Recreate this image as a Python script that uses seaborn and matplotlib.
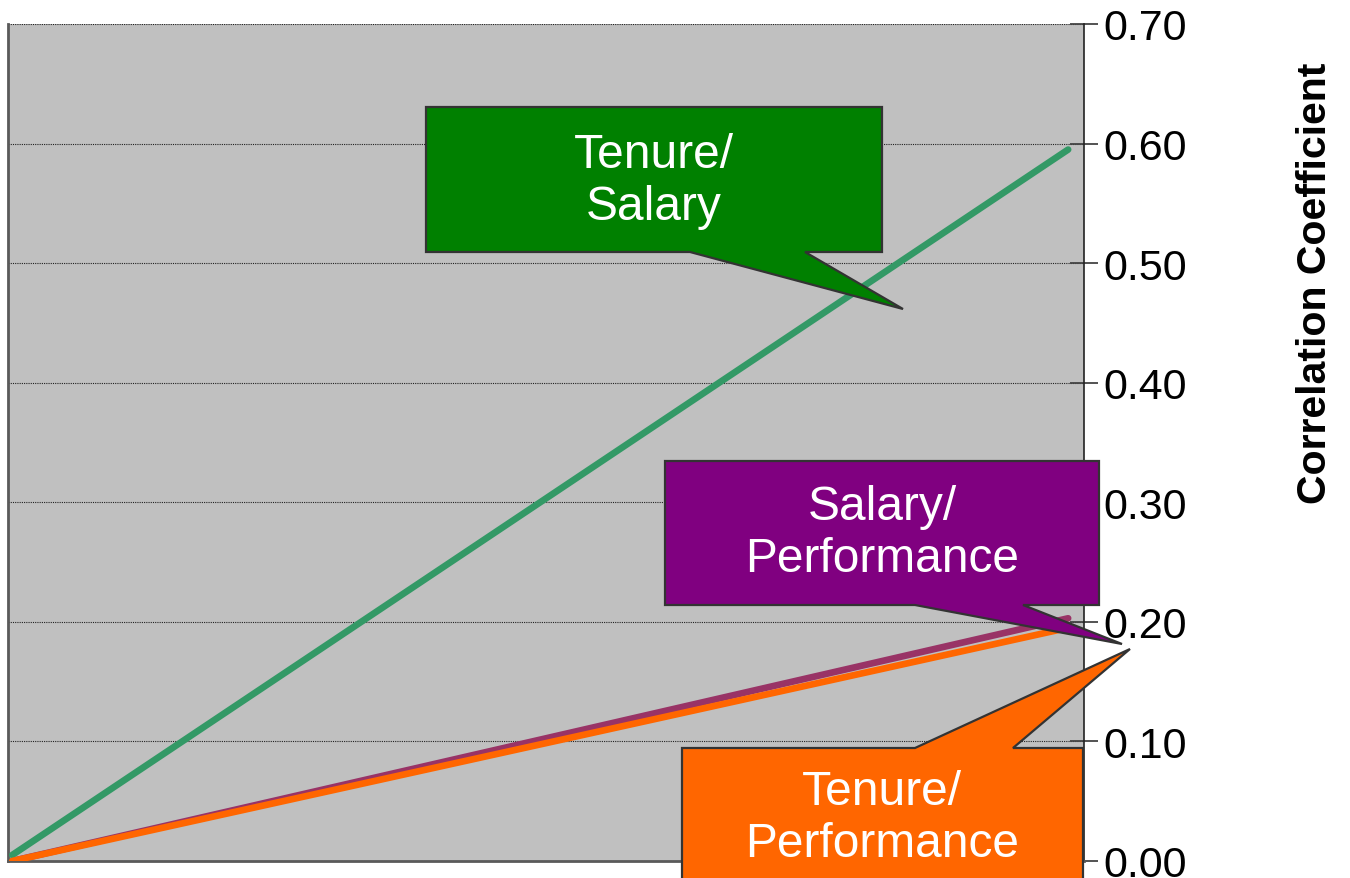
import matplotlib
matplotlib.use("Agg")
import matplotlib.pyplot as plt
from matplotlib.patches import Polygon
import seaborn as sns
import pandas as pd

# Correlation between pairs of measures, drawn as straight rises from zero
x_points = [0, 1]
tenure_salary = [0.005, 0.595]
salary_performance = [0.0, 0.203]
tenure_performance = [0.0, 0.195]
series_names = ["Tenure/Salary", "Salary/Performance", "Tenure/Performance"]
series_colors = ["#339966", "#993366", "#FF6600"]
y_ticks = [0.0, 0.1, 0.2, 0.3, 0.4, 0.5, 0.6, 0.7]
y_label = "Correlation Coefficient"

frames = []
for name, vals in zip(series_names, [tenure_salary, salary_performance, tenure_performance]):
    frames.append(pd.DataFrame({"x": x_points, "r": vals, "pair": name}))
df = pd.concat(frames, ignore_index=True)

sns.set_style("white")
plt.rcParams["font.family"] = ["Liberation Sans", "DejaVu Sans"]
plt.rcParams["text.color"] = "black"
plt.rcParams["ytick.labelcolor"] = "black"
plt.rcParams["axes.labelcolor"] = "black"

W, H = 1350, 879
fig = plt.figure(figsize=(W / 100, H / 100), dpi=100)
ax = fig.add_axes([8 / W, 1 - 862 / H, (1084 - 8) / W, (862 - 25) / H])
ax.set_facecolor("#C0C0C0")

sns.lineplot(data=df, x="x", y="r", hue="pair", hue_order=series_names,
             palette=series_colors, linewidth=4.8, legend=False, ax=ax,
             solid_capstyle="round")
# keep orange on top of purple
for line, z in zip(ax.get_lines(), [3, 2, 4]):
    line.set_zorder(z)

ax.set_xlim(-0.004, 1.015)
ax.set_ylim(0, 0.70)
ax.set_xticks([])
ax.set_xlabel("")
ax.yaxis.tick_right()
ax.set_yticks(y_ticks)
ax.set_yticklabels([f"{v:.2f}" for v in y_ticks], fontsize=31, color="black")
ax.tick_params(axis="y", direction="inout", length=20, width=1.3,
               color="#444444", pad=4, right=True, left=False)
ax.grid(axis="y", color="#222222", linestyle=(0, (1, 1)), linewidth=0.8)
ax.set_axisbelow(True)

for side in ["left", "bottom"]:
    ax.spines[side].set_visible(True)
    ax.spines[side].set_color("#5a5a5a")
    ax.spines[side].set_linewidth(2)
ax.spines["right"].set_color("#222222")
ax.spines["right"].set_linewidth(1.2)
ax.spines["top"].set_visible(False)

ax.set_ylabel(y_label, fontsize=29.5, fontweight="bold", rotation=90, color="black")
ax.yaxis.set_label_position("right")
ax.yaxis.set_label_coords((1296 - 8) / 1076, (862 - 283) / 837)


def px(pts):
    return [(x / W, 1 - y / H) for x, y in pts]


callouts = [
    ("Tenure/\nSalary", "#008000", (654, 181),
     [(426, 108), (882, 108), (882, 253), (805, 253), (903, 310), (690, 253), (426, 253)]),
    ("Salary/\nPerformance", "#800080", (882, 533),
     [(665, 462), (1099, 462), (1099, 606), (1023, 606), (1122, 645), (915, 606), (665, 606)]),
    ("Tenure/\nPerformance", "#FF6600", (882, 819),
     [(682, 749), (915, 749), (1130, 650), (1013, 749), (1083, 749), (1083, 920), (682, 920)]),
]
for text, color, center, shape in callouts:
    poly = Polygon(px(shape), closed=True, facecolor=color, edgecolor="#333333",
                   linewidth=1.6, transform=fig.transFigure, zorder=10, clip_on=False)
    fig.patches.append(poly)
    fig.text(center[0] / W, 1 - center[1] / H, text, color="white", fontsize=34.5,
             ha="center", va="center", linespacing=1.2, zorder=11)

fig.savefig("out.png", dpi=100)
